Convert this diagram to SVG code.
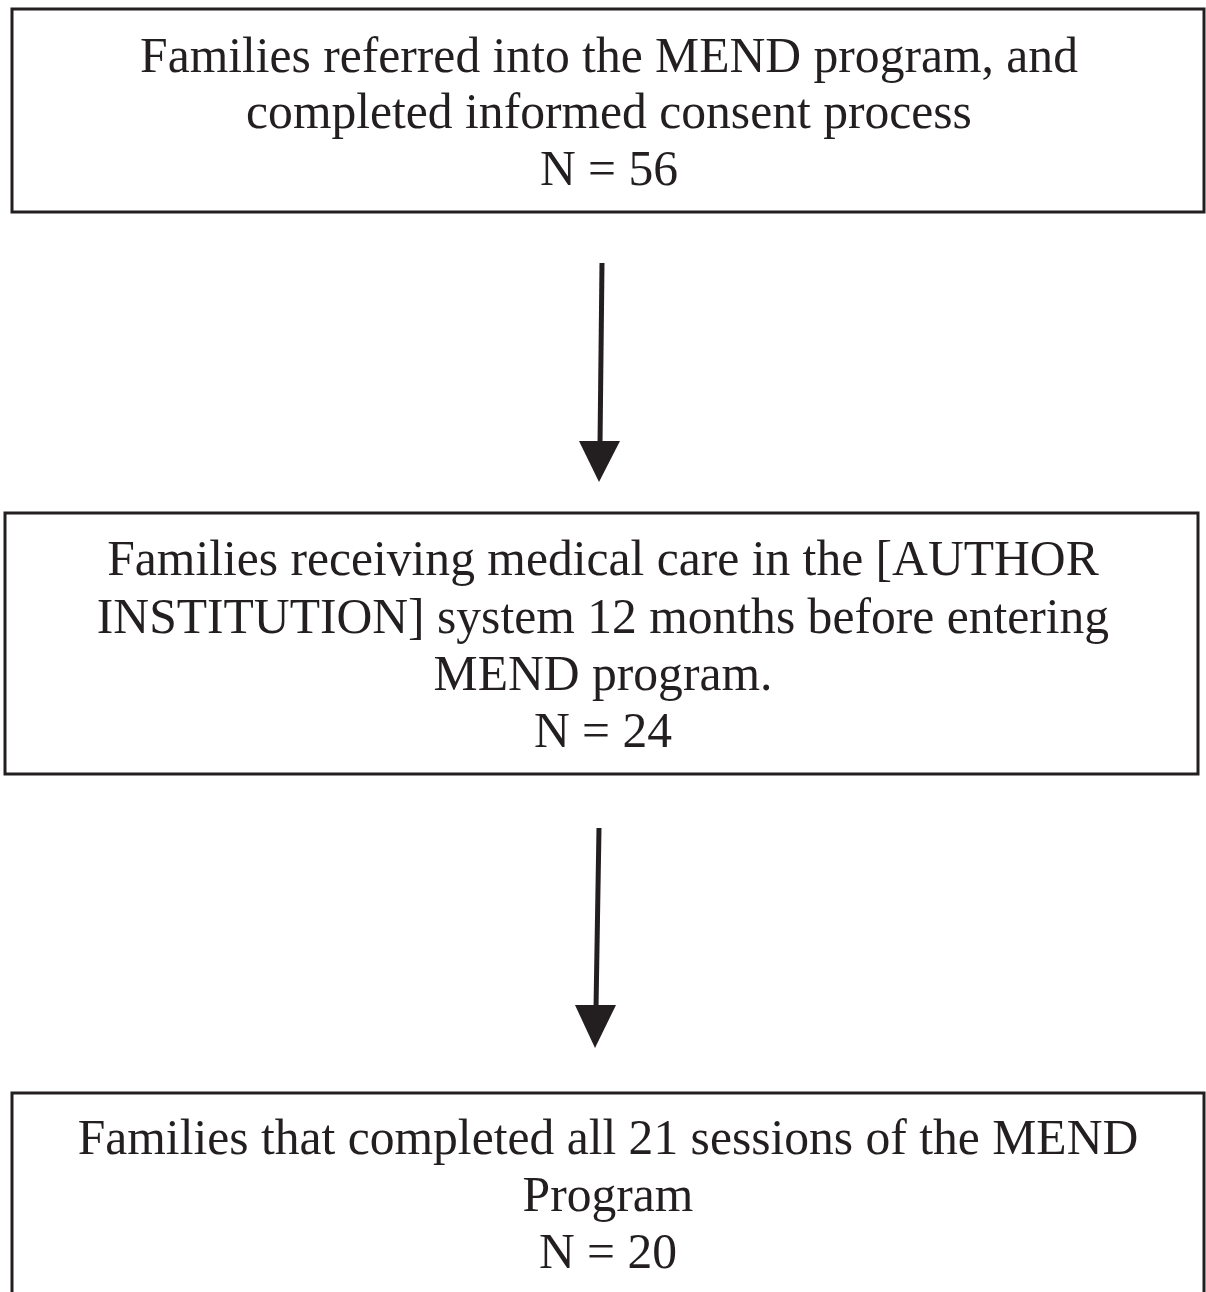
<svg xmlns="http://www.w3.org/2000/svg" width="1206" height="1292" viewBox="0 0 1206 1292">
<style>
.box{fill:#fff;stroke:#231f20;stroke-width:3}
.t{font-family:"Liberation Serif","Times New Roman",serif;font-size:49.6px;fill:#231f20;text-anchor:middle}
.conn{stroke:#231f20;stroke-width:5;fill:none}
.head{fill:#231f20}
</style>
<rect width="1206" height="1292" fill="#fff"/>
<g id="node1">
<rect class="box" x="12" y="9" width="1192" height="203"/>
<text class="t" x="609" y="72">Families referred into the MEND program, and</text>
<text class="t" x="609" y="128">completed informed consent process</text>
<text class="t" x="609" y="185">N = 56</text>
</g>
<g id="node2">
<rect class="box" x="5" y="513" width="1193" height="261"/>
<text class="t" x="603" y="575">Families receiving medical care in the [AUTHOR</text>
<text class="t" x="603" y="633">INSTITUTION] system 12 months before entering</text>
<text class="t" x="603" y="690">MEND program.</text>
<text class="t" x="603" y="747">N = 24</text>
</g>
<g id="node3">
<rect class="box" x="12" y="1093" width="1192" height="220"/>
<text class="t" x="608" y="1154">Families that completed all 21 sessions of the MEND</text>
<text class="t" x="608" y="1211">Program</text>
<text class="t" x="608" y="1268">N = 20</text>
</g>
<g id="connectors">
<line class="conn" x1="602" y1="263" x2="600" y2="445"/>
<polygon class="head" points="579,441 620,441 599,482"/>
<line class="conn" x1="599" y1="828" x2="596" y2="1008"/>
<polygon class="head" points="575,1005 616,1005 595,1048"/>
</g>
</svg>
